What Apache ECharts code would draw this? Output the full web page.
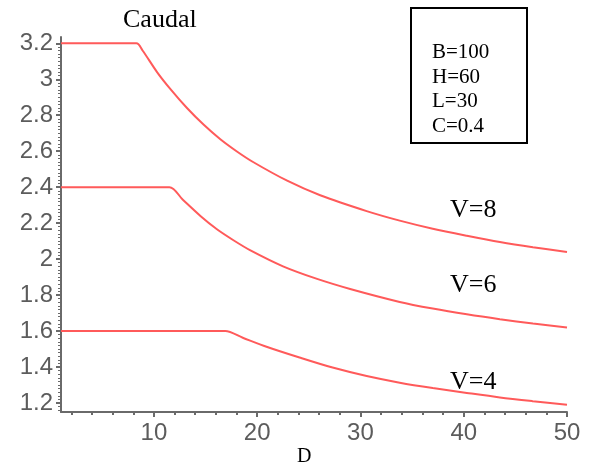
<!DOCTYPE html>
<html>
<head>
<meta charset="utf-8">
<script src="https://cdn.jsdelivr.net/npm/echarts@6/dist/echarts.min.js"></script>
<style>html,body{margin:0;padding:0;background:#fff;}#c{width:591px;height:468px;}</style>
</head>
<body>
<div id="c"></div>
<script>
// Data
var seriesV8 = [[1,3.2],[8.3,3.2],[8.9,3.16],[10.3,3.04],[11.6,2.945],[13.2,2.84],[14.8,2.748],[16.4,2.668],[18,2.6],[19.6,2.54],[22.9,2.436],[26.1,2.355],[30.6,2.267],[33.8,2.214],[37.0,2.169],[40.3,2.13],[43.5,2.095],[46.7,2.066],[50,2.04]];
var seriesV6 = [[1,2.4],[11.5,2.4],[12.8,2.33],[14.5,2.24],[16.1,2.166],[17.7,2.105],[19.3,2.05],[22.5,1.96],[25.8,1.89],[29,1.834],[33.8,1.762],[37,1.725],[40.3,1.693],[43.5,1.666],[46.7,1.642],[50,1.62]];
var seriesV4 = [[1,1.6],[16.9,1.6],[18.6,1.563],[20.9,1.513],[24.1,1.453],[27.3,1.397],[30.6,1.35],[33.8,1.313],[37,1.283],[40.3,1.256],[43.5,1.231],[46.7,1.21],[50,1.19]];
var seriesNames = ['V=8','V=6','V=4'];
var xMajorTicks = [10,20,30,40,50];
var xMinorTicks = [2,4,6,8,12,14,16,18,22,24,26,28,32,34,36,38,42,44,46,48];
var yMajorTicks = [1.2,1.4,1.6,1.8,2,2.2,2.4,2.6,2.8,3,3.2];
var yMinorTicks = [];
for (var i = 0; i <= 102; i++) { yMinorTicks.push(+(1.16 + i*0.02).toFixed(2)); }
var paramLines = ['B=100','H=60','L=30','C=0.4'];
var titleText = 'Caudal';
var xName = 'D';

var axisColor = '#6a6a6a';
var labelColor = '#5c5c5c';
var lineColor = '#ff5a5a';
var tickFont = 'Liberation Sans';

var chart = echarts.init(document.getElementById('c'), null, {renderer:'canvas'});
var option = {
  animation: false,
  backgroundColor: '#fff',
  grid: {left: 61, right: 24, top: 37, bottom: 56, containLabel: false, outerBoundsMode: 'none'},
  xAxis: [
    {type:'value', min:1, max:50, position:'bottom',
     axisLine:{show:true, onZero:false, lineStyle:{color:axisColor, width:2}},
     axisTick:{show:true, customValues:xMajorTicks, length:5, lineStyle:{color:axisColor, width:2}},
     axisLabel:{show:true, customValues:xMajorTicks, fontFamily:tickFont, fontSize:24, color:labelColor, margin:9},
     splitLine:{show:false}},
    {type:'value', min:1, max:50, position:'bottom', offset:0,
     axisLine:{show:false, onZero:false},
     axisTick:{show:true, customValues:xMinorTicks, length:3, lineStyle:{color:axisColor, width:2}},
     axisLabel:{show:false}, splitLine:{show:false}}
  ],
  yAxis: [
    {type:'value', min:1.15, max:3.235, position:'left',
     axisLine:{show:true, onZero:false, lineStyle:{color:axisColor, width:2}},
     axisTick:{show:true, customValues:yMajorTicks, length:5, lineStyle:{color:axisColor, width:2}},
     axisLabel:{show:true, customValues:yMajorTicks, fontFamily:tickFont, fontSize:24, color:labelColor, margin:8,
       formatter:function(v){return String(+(+v).toFixed(1));}},
     splitLine:{show:false}},
    {type:'value', min:1.15, max:3.235, position:'left', offset:0,
     axisLine:{show:false, onZero:false},
     axisTick:{show:true, customValues:yMinorTicks, length:3, lineStyle:{color:axisColor, width:1}},
     axisLabel:{show:false}, splitLine:{show:false}}
  ],
  series: [seriesV8, seriesV6, seriesV4].map(function(d, k){
    return {type:'line', name:seriesNames[k], data:d, xAxisIndex:0, yAxisIndex:0, showSymbol:false, symbol:'none',
            smooth:0.3, lineStyle:{color:lineColor, width:2}, silent:true};
  }),
  graphic: [
    {type:'text', x:123, y:7, style:{text:titleText, font:'26px "Liberation Serif"', fill:'#000'}},
    {type:'rect', shape:{x:411, y:8, width:116, height:135}, style:{fill:'none', stroke:'#000', lineWidth:2}},
    {type:'text', x:432, y:40, style:{text:paramLines.join('\n'), font:'21px "Liberation Serif"', fill:'#000', lineHeight:24.7}},
    {type:'text', x:450, y:197, style:{text:seriesNames[0], font:'26px "Liberation Serif"', fill:'#000'}},
    {type:'text', x:450, y:272, style:{text:seriesNames[1], font:'26px "Liberation Serif"', fill:'#000'}},
    {type:'text', x:450, y:369, style:{text:seriesNames[2], font:'26px "Liberation Serif"', fill:'#000'}},
    {type:'text', x:297, y:447, style:{text:xName, font:'20px "Liberation Serif"', fill:'#000'}}
  ]
};
chart.setOption(option);
</script>
</body>
</html>
